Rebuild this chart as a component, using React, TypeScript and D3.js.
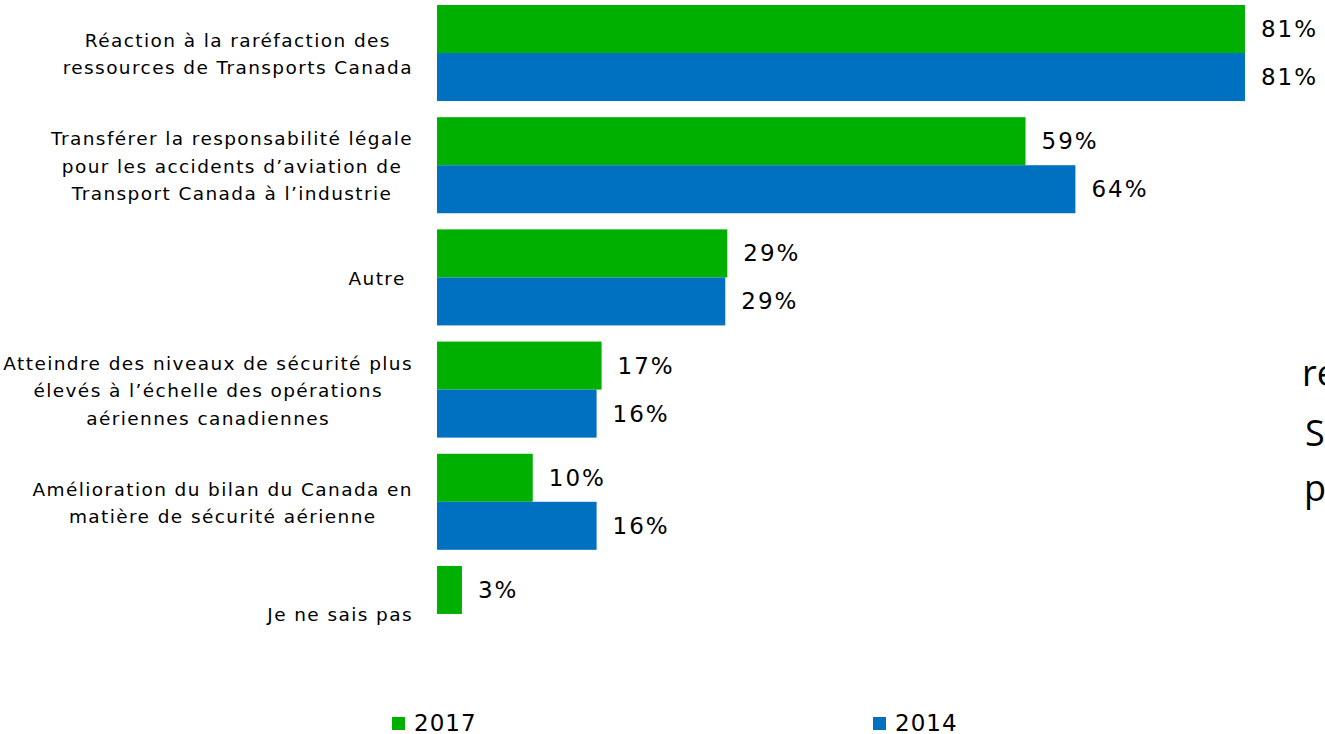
import { useEffect, useRef } from "react";
import * as d3 from "d3";

const categories = [
  "Réaction à la raréfaction des\nressources de Transports Canada",
  "Transférer la responsabilité légale\npour les accidents d’aviation de\nTransport Canada à l’industrie",
  "Autre ",
  "Atteindre des niveaux de sécurité plus\nélevés à l’échelle des opérations\naériennes canadiennes",
  "Amélioration du bilan du Canada en\nmatière de sécurité aérienne",
  "Je ne sais pas",
];
const years = ["2017", "2014"];
const values2017 = [81, 59, 29.1, 16.5, 9.6, 2.5];
const values2014: (number | null)[] = [81, 64, 28.9, 16, 16, null];
const colors = ["#00b000", "#0070c0"];
// bits of a text box that sits past the right edge of the slide
const sideText = ["re", "S", "p"];

const W = 1325;
const H = 734;

const App = () => {
  const ref = useRef<SVGSVGElement | null>(null);

  useEffect(() => {
    if (!ref.current) return;
    document.body.style.margin = "0";

    const svg = d3.select(ref.current);
    svg.selectAll("*").remove();
    const font = "DejaVu Sans";

    const x = d3.scaleLinear([0, 100], [437, 1434.5]);
    const y = d3
      .scaleBand<number>()
      .domain(d3.range(categories.length))
      .range([5, 662])
      .paddingInner(0.144);
    const y1 = d3.scaleBand<string>().domain(years).range([0, y.bandwidth()]);

    const series = [values2017, values2014];
    const bars = categories.flatMap((_, i) =>
      years.map((yr, s) => ({ i, yr, s, v: series[s][i] }))
    ).filter((d) => d.v != null) as { i: number; yr: string; s: number; v: number }[];

    const g = svg.append("g");

    g.selectAll("rect")
      .data(bars)
      .join("rect")
      .attr("x", x(0))
      .attr("y", (d) => y(d.i)! + y1(d.yr)!)
      .attr("width", (d) => x(d.v) - x(0))
      .attr("height", y1.bandwidth())
      .attr("fill", (d) => colors[d.s]);

    g.selectAll("text.val")
      .data(bars)
      .join("text")
      .attr("class", "val")
      .attr("x", (d) => x(d.v) + 16)
      .attr("y", (d) => y(d.i)! + y1(d.yr)! + y1.bandwidth() / 2)
      .attr("dominant-baseline", "central")
      .attr("font-family", font)
      .attr("font-size", 23)
      .attr("letter-spacing", 2)
      .attr("fill", "#000")
      .text((d) => Math.round(d.v) + "%");

    // category labels: each block centred on its widest line, block right-aligned
    const right = 413;
    const lh = 27.5;
    categories.forEach((c, i) => {
      const lines = c.split("\n");
      const cy = y(i)! + y.bandwidth() / 2 + 1;
      const t = svg
        .append("g")
        .selectAll("text")
        .data(lines)
        .join("text")
        .attr("y", (_, k) => cy + (k - (lines.length - 1) / 2) * lh)
        .attr("dominant-baseline", "central")
        .attr("text-anchor", "middle")
        .attr("font-family", font)
        .attr("font-size", 18.5)
        .attr("letter-spacing", 1.4)
        .style("white-space", "pre")
        .attr("fill", "#000")
        .text((d) => d);
      const maxW = d3.max(t.nodes(), (n) => (n as SVGTextElement).getComputedTextLength()) || 0;
      t.attr("x", right - maxW / 2);
    });

    // legend
    const legendX = [392, 873];
    const lg = svg
      .append("g")
      .selectAll("g")
      .data(years)
      .join("g")
      .attr("transform", (_, i) => `translate(${legendX[i]},717)`);
    lg.append("rect").attr("width", 13).attr("height", 13).attr("fill", (_, i) => colors[i]);
    lg.append("text")
      .attr("x", 22)
      .attr("y", 14)
      .attr("font-family", font)
      .attr("font-size", 23)
      .attr("letter-spacing", 1)
      .attr("fill", "#000")
      .text((d) => d);

    const sideX = [1302, 1305, 1304];
    const sideY = [386, 446, 501];
    svg
      .append("g")
      .selectAll("text")
      .data(sideText)
      .join("text")
      .attr("x", (_, i) => sideX[i])
      .attr("y", (_, i) => sideY[i])
      .attr("font-family", "Open Sans")
      .attr("font-size", 36)
      .attr("fill", "#000")
      .text((d) => d);
  }, []);

  return (
    <svg
      ref={ref}
      width={W}
      height={H}
      style={{ position: "absolute", left: 0, top: 0, background: "#fff" }}
    />
  );
};

export default App;
